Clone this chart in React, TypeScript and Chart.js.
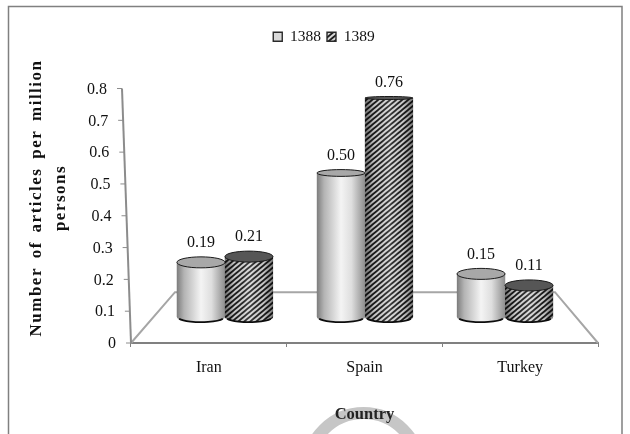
import React, { useEffect, useRef } from "react";
import { Chart, registerables } from "chart.js";

Chart.register(...registerables);

const categories = ["Iran", "Spain", "Turkey"];
const values1388 = [0.19, 0.5, 0.15];
const values1389 = [0.21, 0.76, 0.11];
const seriesNames = ["1388", "1389"];
const yTitle = ["Number of articles per million", "persons"];
const xTitle = "Country";

const SERIF = "'Liberation Serif', serif";
const AXIS = "#808080";
const FLOOR = "#a6a6a6";

function hatch(): CanvasPattern {
  const c = document.createElement("canvas");
  c.width = 6;
  c.height = 5;
  const g = c.getContext("2d")!;
  g.fillStyle = "#d8d8d8";
  g.fillRect(0, 0, 6, 5);
  g.strokeStyle = "#1c1c1c";
  g.lineWidth = 1.8;
  for (const o of [-6, 0, 6]) {
    g.beginPath();
    g.moveTo(o - 1.2, 6);
    g.lineTo(o + 7.2, -1);
    g.stroke();
  }
  return g.createPattern(c, "repeat")!;
}

const rimRadius = (y: number) => Math.min(5.5, 1.5 + Math.max(0, y - 97) * 0.025);
const axisXAt = (y: number, top: number, bottom: number, l: number, r: number) =>
  l + ((y - top) / (bottom - top)) * (r - l);

const cylinders = {
  id: "cylinders",
  afterLayout(chart: any) {
    // the legend sits right of the canvas centre in the original
    chart.legend.left = 25;
    chart.legend.right = 623;
  },
  beforeDraw(chart: any) {
    const { ctx, height, scales } = chart;
    // keep the long rotated title centred on its drawn length
    const s = scales.y;
    if (!s.__wrapped) {
      s.__wrapped = true;
      const orig = s.drawTitle.bind(s);
      s.drawTitle = () => {
        const t = s.top;
        const b = s.bottom;
        s.top = 56;
        s.bottom = 340;
        ctx.save();
        ctx.letterSpacing = "1.5px";
        ctx.wordSpacing = "3px";
        orig();
        ctx.restore();
        s.top = t;
        s.bottom = b;
      };
    }
    ctx.save();
    ctx.strokeStyle = "#c6c6c6";
    ctx.lineWidth = 12;
    ctx.beginPath();
    ctx.arc(363.5, 469, 56, 0, Math.PI * 2);
    ctx.stroke();
    ctx.strokeStyle = AXIS;
    ctx.lineWidth = 1.5;
    ctx.beginPath();
    ctx.moveTo(8.5, height + 2);
    ctx.lineTo(8.5, 6.5);
    ctx.lineTo(622, 6.5);
    ctx.lineTo(622, height + 2);
    ctx.stroke();
    ctx.restore();
  },
  beforeDatasetsDraw(chart: any) {
    const { ctx, chartArea, scales } = chart;
    const b = chartArea.bottom;
    const backY = scales.yb.getPixelForValue(0) - 25;
    ctx.save();
    ctx.strokeStyle = FLOOR;
    ctx.lineWidth = 2;
    ctx.beginPath();
    ctx.moveTo(chartArea.left, b);
    ctx.lineTo(chartArea.left + 44, backY);
    ctx.lineTo(chartArea.right - 43, backY);
    ctx.lineTo(chartArea.right, b);
    ctx.stroke();

    // slanted value axis with its ticks and labels
    const y = scales.y;
    const top = y.getPixelForValue(0.8);
    const bot = y.getPixelForValue(0);
    ctx.strokeStyle = "#8c8c8c";
    ctx.beginPath();
    ctx.moveTo(axisXAt(bot, top, bot, 122, 131), bot);
    ctx.lineTo(axisXAt(top, top, bot, 122, 131), top);
    ctx.stroke();
    ctx.lineWidth = 1;
    ctx.fillStyle = "#111";
    ctx.font = `16px ${SERIF}`;
    ctx.textAlign = "right";
    ctx.textBaseline = "middle";
    y.ticks.forEach((t: any) => {
      const py = y.getPixelForValue(t.value);
      const ax = axisXAt(py, top, bot, 122, 131);
      ctx.beginPath();
      ctx.moveTo(ax - 5, py);
      ctx.lineTo(ax, py);
      ctx.stroke();
      ctx.fillText(t.label, ax - 15, py + 1);
    });
    ctx.restore();
  },
  afterDatasetsDraw(chart: any) {
    const { ctx } = chart;
    chart.data.datasets.forEach((ds: any, di: number) => {
      const meta = chart.getDatasetMeta(di);
      meta.data.forEach((bar: any, i: number) => {
        const { x, y, base, width: w } = bar.getProps(["x", "y", "base", "width"], true);
        const l = x - w / 2;
        const r = x + w / 2;
        const ry = rimRadius(y);
        const rb = 5;
        const body = () => {
          ctx.beginPath();
          ctx.moveTo(l, y);
          ctx.lineTo(l, base);
          ctx.ellipse(x, base, w / 2, rb, 0, Math.PI, 0, true);
          ctx.lineTo(r, y);
          ctx.ellipse(x, y, w / 2, ry, 0, 0, Math.PI, false);
          ctx.closePath();
        };
        ctx.save();
        const shade = ctx.createLinearGradient(l, 0, r, 0);
        if (di === 0) {
          shade.addColorStop(0, "#7e7e7e");
          shade.addColorStop(0.15, "#b4b4b4");
          shade.addColorStop(0.5, "#f4f4f4");
          shade.addColorStop(0.72, "#dedede");
          shade.addColorStop(1, "#8e8e8e");
          ctx.fillStyle = shade;
          body();
          ctx.fill();
        } else {
          ctx.fillStyle = ds.backgroundColor;
          body();
          ctx.fill();
          shade.addColorStop(0, "rgba(0,0,0,0.5)");
          shade.addColorStop(0.2, "rgba(0,0,0,0.08)");
          shade.addColorStop(0.5, "rgba(255,255,255,0.15)");
          shade.addColorStop(0.8, "rgba(0,0,0,0.08)");
          shade.addColorStop(1, "rgba(0,0,0,0.45)");
          ctx.fillStyle = shade;
          body();
          ctx.fill();
        }
        // top face
        ctx.fillStyle = di === 0 ? "#a8a8a8" : "#565656";
        ctx.beginPath();
        ctx.ellipse(x, y, w / 2, ry, 0, 0, Math.PI * 2);
        ctx.fill();
        ctx.strokeStyle = "#1a1a1a";
        ctx.lineWidth = 1;
        ctx.stroke();
        // base rim
        ctx.lineWidth = 1.8;
        ctx.strokeStyle = "#0c0c0c";
        ctx.beginPath();
        ctx.ellipse(x, base, w / 2 - 1, rb, 0, Math.PI * 0.9, Math.PI * 0.1, true);
        ctx.stroke();
        // value label
        ctx.fillStyle = "#111";
        ctx.font = `16px ${SERIF}`;
        ctx.textAlign = "center";
        ctx.textBaseline = "middle";
        ctx.fillText(ds.data[i].y.toFixed(2), x, y - ry - 14);
        ctx.restore();
      });
    });
  },
};

export default function App() {
  const ref = useRef<HTMLCanvasElement>(null);
  useEffect(() => {
    const toPoints = (vals: number[]) => vals.map((v, i) => ({ x: i, y: v }));
    const common = {
      xAxisID: "xb",
      yAxisID: "yb",
      borderColor: "#2a2a2a",
      borderWidth: 1.4,
      barThickness: 48,
    };
    const chart = new Chart(ref.current!, {
      type: "bar",
      plugins: [cylinders as any],
      data: {
        datasets: [
          { ...common, label: seriesNames[0], data: toPoints(values1388), backgroundColor: "#d9d9d9" },
          { ...common, label: seriesNames[1], data: toPoints(values1389), backgroundColor: hatch() },
        ] as any,
      },
      options: {
        responsive: false,
        animation: false,
        devicePixelRatio: 1,
        layout: { padding: { left: 0, right: 32, top: 23, bottom: 0 } },
        plugins: {
          tooltip: { enabled: false },
          legend: {
            position: "top",
            labels: {
              boxWidth: 9,
              boxHeight: 9,
              padding: 6,
              color: "#111",
              font: { family: SERIF, size: 15.5 },
            },
          },
        },
        scales: {
          x: {
            type: "category",
            labels: categories,
            position: "bottom",
            offset: true,
            border: { color: AXIS, width: 2 },
            grid: { drawOnChartArea: false, offset: true, color: AXIS, tickLength: 4 },
            ticks: { color: "#111", padding: 11, font: { family: SERIF, size: 16 }, maxRotation: 0 },
            title: {
              display: true,
              text: xTitle,
              color: "#222",
              font: { family: SERIF, size: 16.5, weight: "bold" },
              padding: { top: 0, bottom: 9 },
            },
            afterFit(s: any) { s.height = 91; },
          },
          y: {
            position: "left",
            min: 0,
            max: 0.8,
            border: { display: false },
            grid: { display: false },
            ticks: {
              display: false,
              stepSize: 0.1,
              autoSkip: false,
              callback: (v: any) => (Number(v) === 0 ? "0" : Number(v).toFixed(1)),
            },
            title: {
              display: true,
              text: yTitle,
              color: "#111",
              font: { family: SERIF, size: 17, weight: "bold", lineHeight: 1.4 },
              padding: { top: 25, bottom: 0 },
            },
            afterFit(s: any) { s.width = 131; },
          },
          xb: {
            type: "linear",
            position: "top",
            offset: false,
            min: -0.671,
            max: 2.664,
            border: { display: false },
            grid: { display: false, drawTicks: false },
            ticks: { display: false },
            afterFit(s: any) { s.height = 34; },
          },
          yb: {
            display: false,
            min: -0.0897,
            max: 0.793,
          },
        },
      } as any,
    });
    return () => chart.destroy();
  }, []);
  return (
    <canvas
      ref={ref}
      width={630}
      height={434}
      style={{ position: "fixed", left: 0, top: 0, width: 630, height: 434, display: "block" }}
    />
  );
}
